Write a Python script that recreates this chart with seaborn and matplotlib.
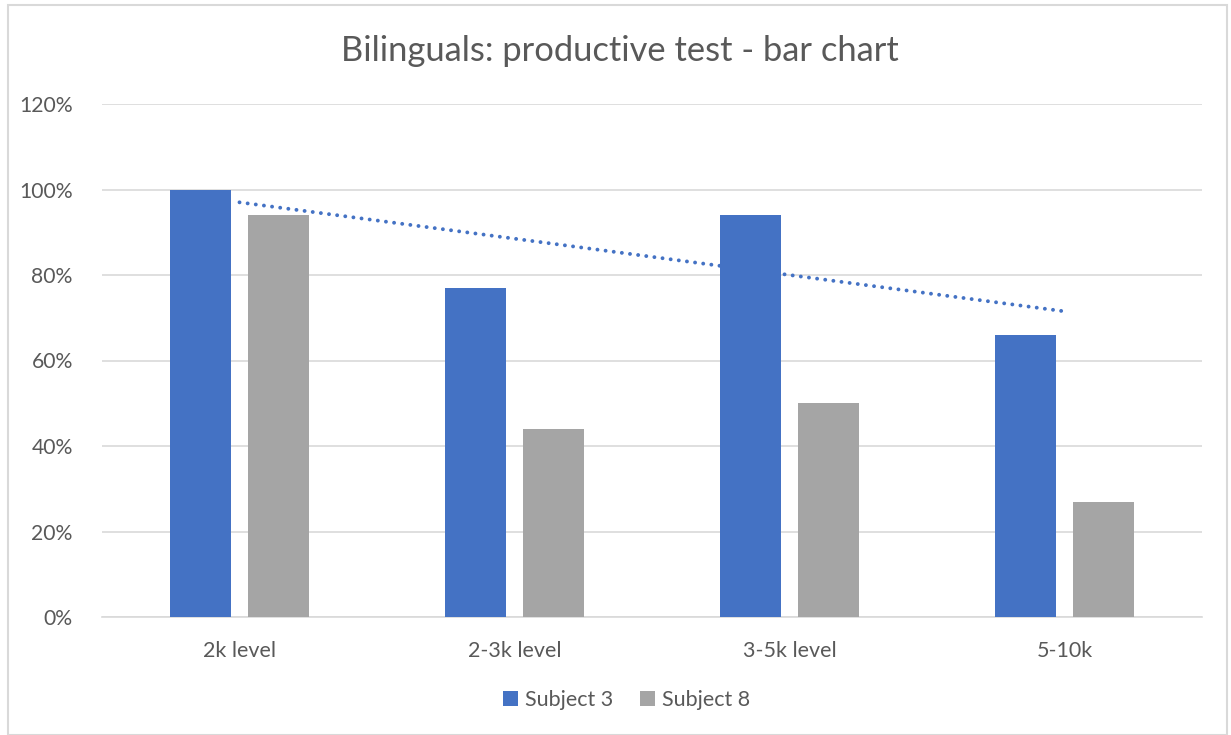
import numpy as np
import pandas as pd
import matplotlib
matplotlib.use("Agg")
import matplotlib.pyplot as plt
import seaborn as sns
from matplotlib.patches import Rectangle, Patch

categories = ["2k level", "2-3k level", "3-5k level", "5-10k"]
subject3 = [1.00, 0.77, 0.94, 0.66]
subject8 = [0.94, 0.44, 0.50, 0.27]
series_names = ["Subject 3", "Subject 8"]
colors = ["#4472C4", "#A5A5A5"]
yticks = [0, 0.2, 0.4, 0.6, 0.8, 1.0, 1.2]
ytick_labels = ["0%", "20%", "40%", "60%", "80%", "100%", "120%"]
title = "Bilinguals: productive test - bar chart"

df = pd.DataFrame({
    "category": categories * 2,
    "value": subject3 + subject8,
    "series": [series_names[0]] * 4 + [series_names[1]] * 4,
})

sns.set_theme(style="white")
plt.rcParams["font.family"] = ["Lato", "DejaVu Sans"]
text_color = "#595959"

fig = plt.figure(figsize=(12.31, 7.35), dpi=100)
ax = fig.add_axes([102 / 1231, 1 - 617 / 735, 1100 / 1231, 513 / 735])

sns.barplot(data=df, x="category", y="value", hue="series", order=categories,
            hue_order=series_names, palette=colors, width=0.57, gap=0.218,
            saturation=1, ax=ax, legend=False, zorder=3, linewidth=0)

# linear trendline for Subject 3
xs = np.arange(len(categories))
slope, intercept = np.polyfit(xs, subject3, 1)
ax.plot(xs, slope * xs + intercept, color="#4472C4", linewidth=2.8,
        linestyle=(0, (0.01, 2.1)), dash_capstyle="round", zorder=4)

ax.set_xlim(-0.5, len(categories) - 0.5)
ax.set_ylim(0, 1.2)
ax.set_yticks(yticks)
ax.set_yticklabels(ytick_labels)
ax.yaxis.grid(True, color="#D9D9D9", linewidth=1.2, zorder=0)
ax.set_axisbelow(True)
for s in ["top", "right", "left"]:
    ax.spines[s].set_visible(False)
ax.spines["bottom"].set_color("#D9D9D9")
ax.spines["bottom"].set_linewidth(1.2)
ax.tick_params(axis="y", length=0, pad=21, labelsize=15.2, labelcolor=text_color)
ax.tick_params(axis="x", length=0, pad=17, labelsize=15.5, labelcolor=text_color)
ax.set_xlabel("")
ax.set_ylabel("")

fig.text(620 / 1231, 1 - 51 / 735, title, ha="center", va="center",
         fontsize=24.8, color=text_color)

handles = [Patch(facecolor=c, edgecolor="none") for c in colors]
fig.legend(handles, series_names, loc="center", bbox_to_anchor=(0.509, 1 - 700 / 735),
           ncol=2, frameon=False, fontsize=15.5, labelcolor=text_color,
           handlelength=0.7, handleheight=0.7, handletextpad=0.35, columnspacing=1.2)

fig.patches.append(Rectangle((8 / 1231, 0), 1219 / 1231, 1 - 5 / 735,
                             transform=fig.transFigure, fill=False,
                             edgecolor="#D9D9D9", linewidth=1.5))

fig.savefig("out.png", dpi=100)
